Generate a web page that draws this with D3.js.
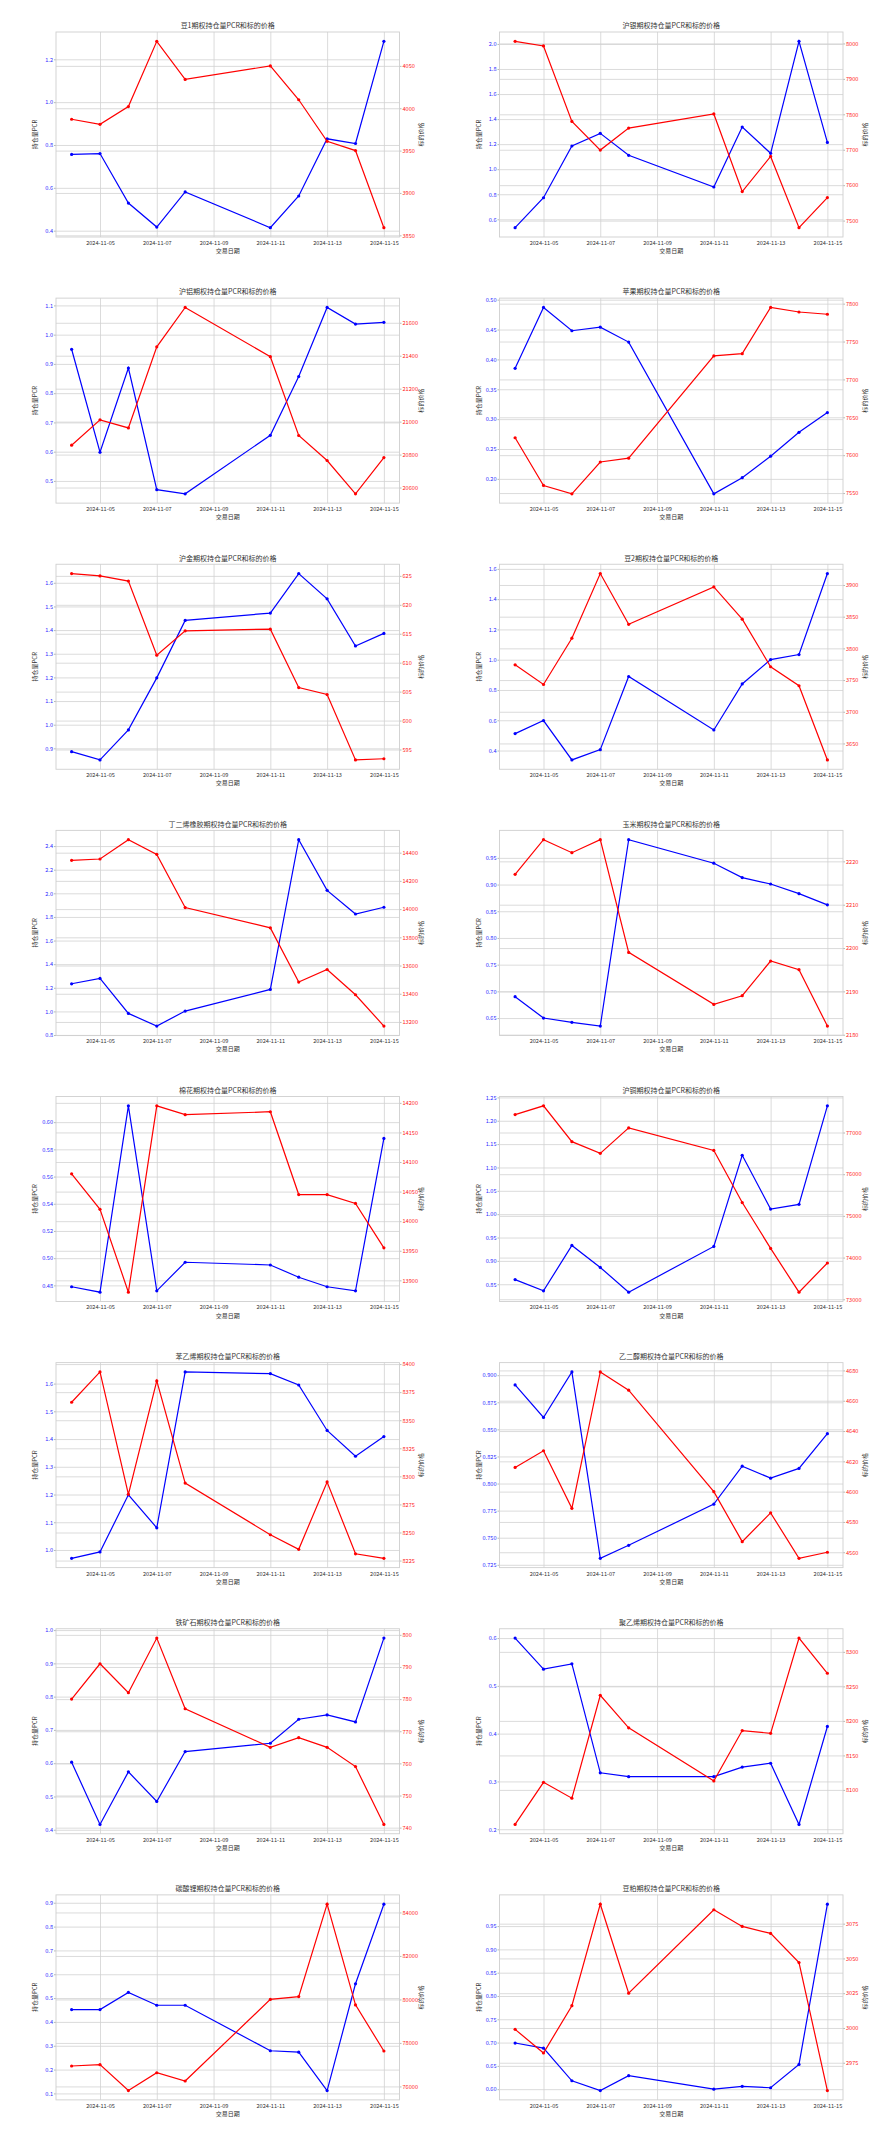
<!DOCTYPE html>
<html><head><meta charset="utf-8">
<script src="https://cdn.jsdelivr.net/npm/d3@7"></script>
<style>body{margin:0;background:#fff}svg{display:block}</style>
</head><body>
<script>
const dates = ["2024-11-04","2024-11-05","2024-11-06","2024-11-07","2024-11-08","2024-11-11","2024-11-12","2024-11-13","2024-11-14","2024-11-15"];
const xTickLabels = ["2024-11-05","2024-11-07","2024-11-09","2024-11-11","2024-11-13","2024-11-15"];
const titles = ["豆1期权持仓量PCR和标的价格","沪银期权持仓量PCR和标的价格","沪铝期权持仓量PCR和标的价格","苹果期权持仓量PCR和标的价格",
"沪金期权持仓量PCR和标的价格","豆2期权持仓量PCR和标的价格","丁二烯橡胶期权持仓量PCR和标的价格","玉米期权持仓量PCR和标的价格",
"棉花期权持仓量PCR和标的价格","沪铜期权持仓量PCR和标的价格","苯乙烯期权持仓量PCR和标的价格","乙二醇期权持仓量PCR和标的价格",
"铁矿石期权持仓量PCR和标的价格","聚乙烯期权持仓量PCR和标的价格","碳酸锂期权持仓量PCR和标的价格","豆粕期权持仓量PCR和标的价格"];

const pcr01 = [0.756,0.760,0.529,0.417,0.581,0.414,0.562,0.829,0.807,1.284];
const price01 = [3987,3981,4002,4079,4034,4050,4010,3961,3950,3859];
const lt01 = ["0.4","0.6","0.8","1.0","1.2"], rt01 = ["3850","3900","3950","4000","4050"];

const pcr02 = [0.533,0.772,1.185,1.286,1.111,0.858,1.337,1.127,2.021,1.214];
const price02 = [8006,7993,7780,7699,7761,7801,7582,7681,7480,7565];
const lt02 = ["0.6","0.8","1.0","1.2","1.4","1.6","1.8","2.0"], rt02 = ["7500","7600","7700","7800","7900","8000"];

const pcr03 = [0.950,0.598,0.886,0.470,0.456,0.656,0.857,1.093,1.036,1.042];
const price03 = [20857,21011,20962,21454,21693,21394,20916,20764,20562,20782];
const lt03 = ["0.5","0.6","0.7","0.8","0.9","1.0","1.1"], rt03 = ["20600","20800","21000","21200","21400","21600"];

const pcr04 = [0.385,0.487,0.448,0.454,0.429,0.175,0.202,0.238,0.278,0.311];
const price04 = [7623,7560,7549,7591,7596,7731,7734,7795,7789,7786];
const lt04 = ["0.20","0.25","0.30","0.35","0.40","0.45","0.50"], rt04 = ["7550","7600","7650","7700","7750","7800"];

const pcr05 = [0.886,0.851,0.978,1.198,1.441,1.472,1.639,1.532,1.333,1.386];
const price05 = [625.4,625.0,624.1,611.3,615.5,615.8,605.7,604.5,593.2,593.4];
const lt05 = ["0.9","1.0","1.1","1.2","1.3","1.4","1.5","1.6"], rt05 = ["595","600","605","610","615","620","625"];

const pcr06 = [0.512,0.598,0.338,0.406,0.889,0.536,0.840,1.001,1.034,1.569];
const price06 = [3774,3743,3816,3918,3838,3897,3846,3771,3741,3624];
const lt06 = ["0.4","0.6","0.8","1.0","1.2","1.4","1.6"], rt06 = ["3650","3700","3750","3800","3850","3900"];

const pcr07 = [1.234,1.279,0.983,0.876,1.003,1.186,2.454,2.025,1.825,1.882];
const price07 = [14346,14355,14492,14388,14011,13867,13483,13572,13393,13171];
const lt07 = ["0.8","1.0","1.2","1.4","1.6","1.8","2.0","2.2","2.4"], rt07 = ["13200","13400","13600","13800","14000","14200","14400"];

const pcr08 = [0.690,0.650,0.642,0.635,0.984,0.940,0.913,0.901,0.883,0.862];
const price08 = [2217,2225,2222,2225,2199,2187,2189,2197,2195,2182];
const lt08 = ["0.65","0.70","0.75","0.80","0.85","0.90","0.95"], rt08 = ["2180","2190","2200","2210","2220"];

const pcr09 = [0.479,0.475,0.612,0.476,0.497,0.495,0.486,0.479,0.476,0.588];
const price09 = [14080,14020,13880,14195,14180,14185,14045,14045,14030,13955];
const lt09 = ["0.48","0.50","0.52","0.54","0.56","0.58","0.60"], rt09 = ["13900","13950","14000","14050","14100","14150","14200"];

const pcr10 = [0.860,0.836,0.933,0.886,0.833,0.931,1.126,1.011,1.021,1.232];
const price10 = [77430,77640,76780,76500,77110,76570,75320,74220,73170,73870];
const lt10 = ["0.85","0.90","0.95","1.00","1.05","1.10","1.15","1.20","1.25"], rt10 = ["73000","74000","75000","76000","77000"];

const pcr11 = [0.970,0.993,1.199,1.080,1.642,1.636,1.595,1.431,1.338,1.409];
const price11 = [8366,8393,8284,8385,8294,8248,8235,8295,8231,8227];
const lt11 = ["1.0","1.1","1.2","1.3","1.4","1.5","1.6"], rt11 = ["8225","8250","8275","8300","8325","8350","8375","8400"];

const pcr12 = [0.891,0.861,0.903,0.731,0.743,0.781,0.816,0.805,0.814,0.846];
const price12 = [4616,4627,4589,4679,4667,4600,4567,4586,4556,4560];
const lt12 = ["0.725","0.750","0.775","0.800","0.825","0.850","0.875","0.900"], rt12 = ["4560","4580","4600","4620","4640","4660","4680"];

const pcr13 = [0.603,0.416,0.574,0.485,0.635,0.660,0.732,0.745,0.724,0.976];
const price13 = [780,791,782,799,777,765,768,765,759,741];
const lt13 = ["0.4","0.5","0.6","0.7","0.8","0.9","1.0"], rt13 = ["740","750","760","770","780","790","800"];

const pcr14 = [0.600,0.535,0.546,0.318,0.310,0.310,0.330,0.338,0.210,0.415];
const price14 = [8050,8111,8088,8237,8190,8113,8186,8182,8320,8269];
const lt14 = ["0.2","0.3","0.4","0.5","0.6"], rt14 = ["8100","8150","8200","8250","8300"];

const pcr15 = [0.452,0.452,0.524,0.470,0.470,0.279,0.273,0.112,0.560,0.894];
const price15 = [76940,77000,75810,76630,76250,80000,80130,84380,79750,77630];
const lt15 = ["0.1","0.2","0.3","0.4","0.5","0.6","0.7","0.8","0.9"], rt15 = ["76000","78000","80000","82000","84000"];

const pcr16 = [0.699,0.688,0.618,0.597,0.629,0.600,0.606,0.603,0.653,0.997];
const price16 = [2999,2982,3016,3089,3025,3085,3073,3068,3047,2955];
const lt16 = ["0.60","0.65","0.70","0.75","0.80","0.85","0.90","0.95"], rt16 = ["2975","3000","3025","3050","3075"];

const pcrs = [pcr01,pcr02,pcr03,pcr04,pcr05,pcr06,pcr07,pcr08,pcr09,pcr10,pcr11,pcr12,pcr13,pcr14,pcr15,pcr16];
const prices = [price01,price02,price03,price04,price05,price06,price07,price08,price09,price10,price11,price12,price13,price14,price15,price16];
const lts = [lt01,lt02,lt03,lt04,lt05,lt06,lt07,lt08,lt09,lt10,lt11,lt12,lt13,lt14,lt15,lt16];
const rts = [rt01,rt02,rt03,rt04,rt05,rt06,rt07,rt08,rt09,rt10,rt11,rt12,rt13,rt14,rt15,rt16];

const W = 887, H = 2129, pw = 443.5, ph = H / 8;
const m = {l: 56, r: 399.5, t: 32, b: 237};
const FONT = "'Noto Sans CJK SC','Noto Sans',sans-serif";
const svg = d3.select("body").append("svg").attr("width", W).attr("height", H)
  .style("font-family", FONT);
svg.append("rect").attr("width", W).attr("height", H).attr("fill", "#fff");

const parse = d3.utcParse("%Y-%m-%d");
const dd = dates.map(parse);
const span = dd[dd.length - 1] - dd[0];
const xDomain = [new Date(+dd[0] - 0.05 * span), new Date(+dd[dd.length - 1] + 0.05 * span)];
const ext = a => { const [lo, hi] = d3.extent(a); const r = hi - lo; return [lo - 0.05 * r, hi + 0.05 * r]; };
const GRID = "#d2d2d2";

titles.forEach((title, i) => {
  const g = svg.append("g").attr("transform", `translate(${(i % 2) * pw},${Math.floor(i / 2) * ph})`);
  const x = d3.scaleUtc().domain(xDomain).range([m.l, m.r]);
  const yL = d3.scaleLinear().domain(ext(pcrs[i])).range([m.b, m.t]);
  const yR = d3.scaleLinear().domain(ext(prices[i])).range([m.b, m.t]);

  const gx = g.append("g").attr("transform", `translate(0,${m.b})`)
    .call(d3.axisBottom(x).tickValues(xTickLabels.map(parse)).tickSize(-(m.b - m.t)).tickPadding(4)
      .tickFormat(d3.utcFormat("%Y-%m-%d")));
  const gl = g.append("g").attr("transform", `translate(${m.l},0)`)
    .call(d3.axisLeft(yL).tickValues(lts[i].map(Number)).tickSize(-(m.r - m.l)).tickPadding(3)
      .tickFormat((d, k) => lts[i][k]));
  const gr = g.append("g").attr("transform", `translate(${m.r},0)`)
    .call(d3.axisRight(yR).tickValues(rts[i].map(Number)).tickSize(-(m.r - m.l)).tickPadding(3)
      .tickFormat((d, k) => rts[i][k]));

  [gx, gl, gr].forEach(a => {
    a.select(".domain").remove();
    a.selectAll(".tick line").attr("stroke", GRID).attr("stroke-width", 0.8);
    a.selectAll(".tick text").attr("font-family", FONT).attr("font-size", 5.6);
  });
  gx.selectAll(".tick text").attr("fill", "#333");
  gl.selectAll(".tick text").attr("fill", "#2b2bff");
  gr.selectAll(".tick text").attr("fill", "#ff1a1a");

  gl.selectAll(".tick").append("line").attr("x1", 0).attr("x2", -2).attr("stroke", "#888").attr("stroke-width", 0.6);
  gr.selectAll(".tick").append("line").attr("x1", 0).attr("x2", 2).attr("stroke", "#888").attr("stroke-width", 0.6);

  g.append("rect").attr("x", m.l).attr("y", m.t).attr("width", m.r - m.l).attr("height", m.b - m.t)
    .attr("fill", "none").attr("stroke", "#cfcfcf").attr("stroke-width", 0.9);

  const lineL = d3.line().x((d, k) => x(dd[k])).y(d => yL(d));
  g.append("path").datum(pcrs[i]).attr("d", lineL).attr("fill", "none").attr("stroke", "#0000ff").attr("stroke-width", 1.2);
  g.selectAll(".pb").data(pcrs[i]).join("circle").attr("class", "pb")
    .attr("cx", (d, k) => x(dd[k])).attr("cy", d => yL(d)).attr("r", 1.6).attr("fill", "#0000ff");

  const lineR = d3.line().x((d, k) => x(dd[k])).y(d => yR(d));
  g.append("path").datum(prices[i]).attr("d", lineR).attr("fill", "none").attr("stroke", "#ff0000").attr("stroke-width", 1.2);
  g.selectAll(".pr").data(prices[i]).join("circle").attr("class", "pr")
    .attr("cx", (d, k) => x(dd[k])).attr("cy", d => yR(d)).attr("r", 1.6).attr("fill", "#ff0000");

  const cx = (m.l + m.r) / 2;
  g.append("text").attr("x", cx).attr("y", 28.3).attr("text-anchor", "middle")
    .attr("font-size", 7).attr("fill", "#333").text(title);
  g.append("text").attr("x", cx).attr("y", 253).attr("text-anchor", "middle")
    .attr("font-size", 6).attr("fill", "#333").text("交易日期");
  g.append("text").attr("transform", `translate(37,${(m.t + m.b) / 2}) rotate(-90)`).attr("text-anchor", "middle")
    .attr("font-size", 6).attr("fill", "#333").text("持仓量PCR");
  g.append("text").attr("transform", `translate(423,${(m.t + m.b) / 2}) rotate(-90)`).attr("text-anchor", "middle")
    .attr("font-size", 6).attr("fill", "#333").text("标的价格");
});
</script>
</body></html>
